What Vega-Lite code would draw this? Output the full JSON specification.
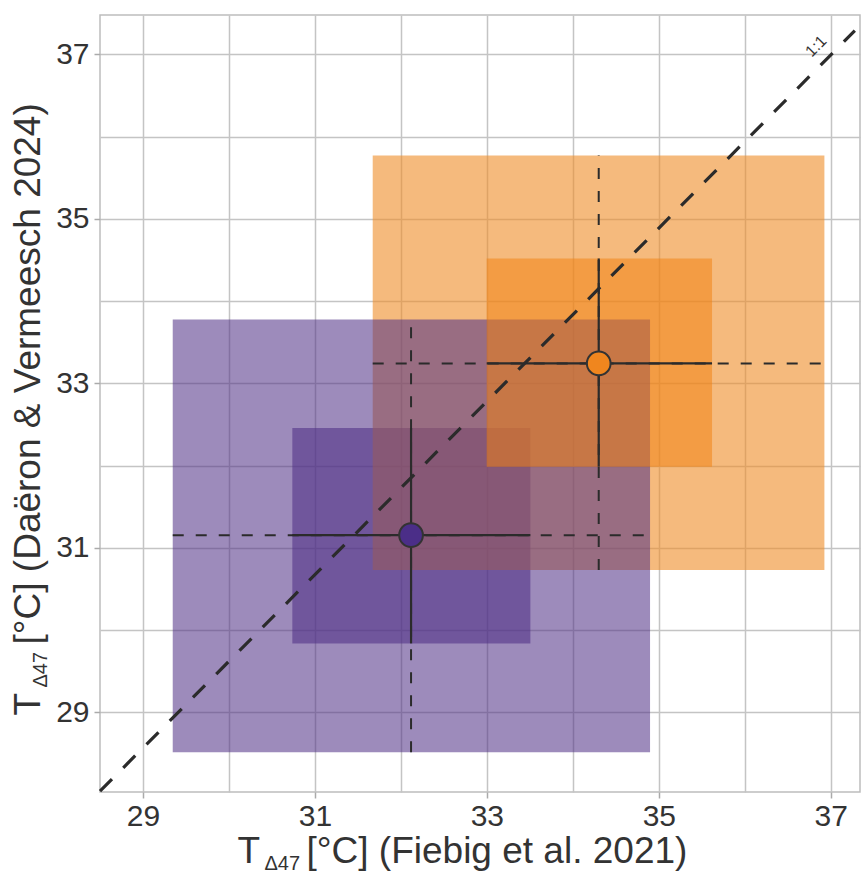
{
  "$schema": "https://vega.github.io/schema/vega-lite/v6.json",
  "width": 760,
  "height": 777,
  "autosize": {"type": "none"},
  "padding": {"left": 100, "top": 15, "right": 1, "bottom": 80},
  "background": "white",
  "config": {
    "view": {"stroke": "#bdbdbd", "strokeWidth": 1.5},
    "axis": {
      "domain": false,
      "labelFont": "Liberation Sans",
      "titleFont": "Liberation Sans",
      "labelFontSize": 30,
      "labelColor": "#333333",
      "titleColor": "#333333",
      "titleFontWeight": "normal",
      "gridColor": "#c4c4c4",
      "gridWidth": 1.5,
      "gridOpacity": 1,
      "tickColor": "#aaaaaa",
      "tickWidth": 1.5
    }
  },
  "datasets": {
    "rects": [
      {"band": "purple 1σ", "x_lo": 30.737, "x_hi": 33.506, "y_lo": 29.837, "y_hi": 32.456},
      {"band": "orange 2σ", "x_lo": 31.672, "x_hi": 36.926, "y_lo": 30.729, "y_hi": 35.772},
      {"band": "purple 2σ", "x_lo": 29.346, "x_hi": 34.898, "y_lo": 28.512, "y_hi": 33.778},
      {"band": "orange 1σ", "x_lo": 32.998, "x_hi": 35.619, "y_lo": 31.986, "y_hi": 34.519}
    ],
    "lines": [
      {"kind": "2σ", "sample": "purple", "x": 29.346, "x2": 34.898, "y": 31.154, "y2": 31.154},
      {"kind": "2σ", "sample": "purple", "x": 32.118, "x2": 32.118, "y": 28.512, "y2": 33.778},
      {"kind": "2σ", "sample": "orange", "x": 31.672, "x2": 36.926, "y": 33.243, "y2": 33.243},
      {"kind": "2σ", "sample": "orange", "x": 34.301, "x2": 34.301, "y": 30.729, "y2": 35.772},
      {"kind": "1σ", "sample": "purple", "x": 30.737, "x2": 33.506, "y": 31.154, "y2": 31.154},
      {"kind": "1σ", "sample": "purple", "x": 32.118, "x2": 32.118, "y": 29.837, "y2": 32.456},
      {"kind": "1σ", "sample": "orange", "x": 32.998, "x2": 35.619, "y": 33.243, "y2": 33.243},
      {"kind": "1σ", "sample": "orange", "x": 34.301, "x2": 34.301, "y": 31.986, "y2": 34.519},
      {"kind": "1:1", "sample": "none", "x": 28.5, "x2": 37.28, "y": 28.04, "y2": 37.29}
    ],
    "points": [
      {"sample": "purple", "x": 32.118, "y": 31.154},
      {"sample": "orange", "x": 34.301, "y": 33.243}
    ],
    "notes": [
      {"label": "1:1", "x": 36.83, "y": 37.1}
    ]
  },
  "layer": [
    {
      "data": {"name": "rects"},
      "mark": {"type": "rect", "strokeWidth": 0},
      "encoding": {
        "x": {
          "field": "x_lo", "type": "quantitative",
          "scale": {"domain": [28.5, 37.34], "nice": false, "zero": false},
          "axis": {
            "orient": "bottom", "values": [29, 30, 31, 32, 33, 34, 35, 36, 37],
            "labels": false, "ticks": false, "grid": true,
            "title": "T", "titleFontSize": 37, "titleX": 137, "titleY": 70,
            "titleAlign": "left", "titleBaseline": "alphabetic", "titleAngle": 0
          }
        },
        "x2": {"field": "x_hi"},
        "y": {
          "field": "y_lo", "type": "quantitative",
          "scale": {"domain": [28.03, 37.48], "nice": false, "zero": false},
          "axis": {
            "orient": "left", "values": [29, 30, 31, 32, 33, 34, 35, 36, 37],
            "labels": false, "ticks": false, "grid": true,
            "title": "T", "titleFontSize": 37, "titleX": -61, "titleY": 700,
            "titleAlign": "left", "titleBaseline": "alphabetic", "titleAngle": -90
          }
        },
        "y2": {"field": "y_hi"},
        "color": {
          "field": "band", "type": "nominal", "legend": null,
          "scale": {
            "domain": ["purple 1σ", "orange 2σ", "purple 2σ", "orange 1σ"],
            "range": ["rgba(80,48,134,0.58)", "rgba(238,142,43,0.61)", "rgba(80,48,134,0.56)", "rgba(242,129,17,0.525)"]
          }
        }
      }
    },
    {
      "data": {"name": "lines"},
      "transform": [{"filter": "datum.kind === '2σ'"}],
      "mark": {"type": "rule", "color": "#2b2b2b", "strokeWidth": 2, "strokeDash": [11, 12]},
      "encoding": {
        "x": {
          "field": "x", "type": "quantitative",
          "scale": {"domain": [28.5, 37.34], "nice": false, "zero": false},
          "axis": {
            "orient": "bottom", "values": [29, 31, 33, 35, 37],
            "labels": true, "ticks": true, "tickSize": 6, "labelPadding": 3, "grid": false,
            "title": "Δ47", "titleFontSize": 20, "titleX": 164, "titleY": 77,
            "titleAlign": "left", "titleBaseline": "alphabetic", "titleAngle": 0
          }
        },
        "x2": {"field": "x2"},
        "y": {
          "field": "y", "type": "quantitative",
          "scale": {"domain": [28.03, 37.48], "nice": false, "zero": false},
          "axis": {
            "orient": "left", "values": [29, 31, 33, 35, 37],
            "labels": true, "ticks": true, "tickSize": 6, "labelPadding": 5, "grid": false,
            "title": "Δ47", "titleFontSize": 20, "titleX": -54, "titleY": 672,
            "titleAlign": "left", "titleBaseline": "alphabetic", "titleAngle": -90
          }
        },
        "y2": {"field": "y2"}
      }
    },
    {
      "data": {"name": "lines"},
      "transform": [{"filter": "datum.kind === '1σ'"}],
      "mark": {"type": "rule", "color": "#2b2b2b", "strokeWidth": 2.2},
      "encoding": {
        "x": {"field": "x", "type": "quantitative", "axis": null},
        "x2": {"field": "x2"},
        "y": {"field": "y", "type": "quantitative", "axis": null},
        "y2": {"field": "y2"}
      }
    },
    {
      "data": {"name": "lines"},
      "transform": [{"filter": "datum.kind === '1:1'"}],
      "mark": {"type": "rule", "color": "#2b2b2b", "strokeWidth": 3.2, "strokeDash": [17, 16]},
      "encoding": {
        "x": {"field": "x", "type": "quantitative", "axis": null},
        "x2": {"field": "x2"},
        "y": {"field": "y", "type": "quantitative", "axis": null},
        "y2": {"field": "y2"}
      }
    },
    {
      "data": {"name": "points"},
      "mark": {"type": "point", "shape": "circle", "filled": true, "size": 560, "stroke": "#333333", "strokeWidth": 2, "opacity": 1},
      "encoding": {
        "x": {
          "field": "x", "type": "quantitative",
          "axis": {
            "orient": "bottom", "labels": false, "ticks": false, "grid": false,
            "title": "[°C] (Fiebig et al. 2021)", "titleFontSize": 37, "titleX": 206, "titleY": 70,
            "titleAlign": "left", "titleBaseline": "alphabetic", "titleAngle": 0
          }
        },
        "y": {
          "field": "y", "type": "quantitative",
          "axis": {
            "orient": "left", "labels": false, "ticks": false, "grid": false,
            "title": "[°C] (Daëron & Vermeesch 2024)", "titleFontSize": 37, "titleX": -61, "titleY": 629,
            "titleAlign": "left", "titleBaseline": "alphabetic", "titleAngle": -90
          }
        },
        "fill": {
          "field": "sample", "type": "nominal", "legend": null,
          "scale": {"domain": ["purple", "orange"], "range": ["#4b2e88", "#f0861e"]}
        }
      }
    },
    {
      "data": {"name": "notes"},
      "mark": {"type": "text", "angle": -45, "fontSize": 16, "font": "Liberation Sans", "color": "#333333", "align": "center", "baseline": "middle"},
      "encoding": {
        "x": {"field": "x", "type": "quantitative", "axis": null},
        "y": {"field": "y", "type": "quantitative", "axis": null},
        "text": {"field": "label"}
      }
    }
  ],
  "resolve": {"axis": {"x": "independent", "y": "independent"}}
}
